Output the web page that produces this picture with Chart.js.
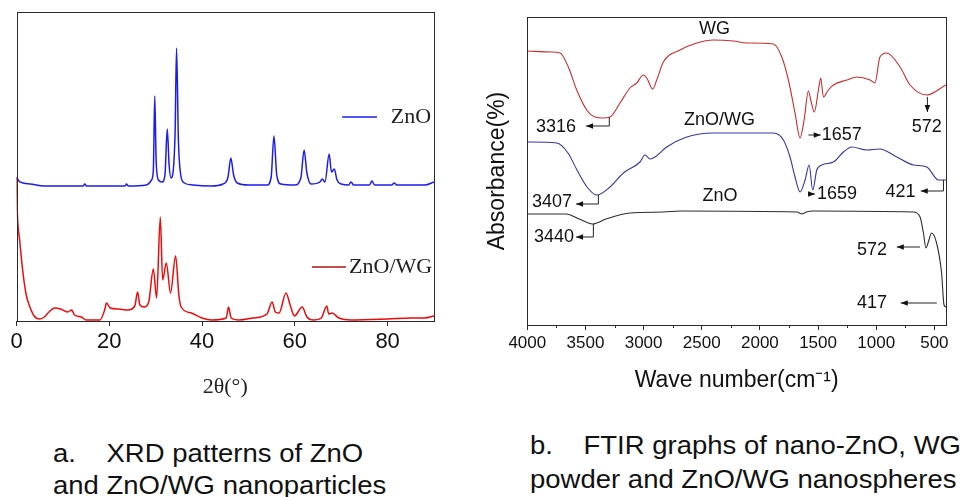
<!DOCTYPE html>
<html>
<head>
<meta charset="utf-8">
<script src="https://cdn.jsdelivr.net/npm/chart.js@4.4.1/dist/chart.umd.min.js"></script>
<style>
  html, body { margin: 0; padding: 0; background: #fff; }
  #page { position: relative; width: 964px; height: 497px; overflow: hidden; }
  canvas { position: absolute; top: 0; }
  .caption {
    position: absolute;
    font-family: 'Liberation Sans', Arial, sans-serif;
    font-size: 25px;
    color: #111;
    white-space: pre;
    transform: scaleX(1.1);
    transform-origin: left top;
  }
</style>
</head>
<body>
<div id="page">
  <canvas id="xrd" width="460" height="410" style="left:0"></canvas>
  <canvas id="ftir" width="484" height="410" style="left:480px"></canvas>
  <div class="caption" style="left:53px; top:437px; line-height:32px">a.    XRD patterns of ZnO
and ZnO/WG nanoparticles</div>
  <div class="caption" style="left:530px; top:428px; line-height:34px">b.    FTIR graphs of nano-ZnO, WG
powder and ZnO/WG nanospheres</div>
</div>
<script>
const SANS = "'Liberation Sans', Arial, sans-serif";
const SERIF = "'Liberation Serif', 'Times New Roman', serif";

// ---- panel a: XRD, 2θ vs intensity (arbitrary units, stacked) ----
const znoAngles = [0, 0.5, 1.5, 3, 6, 10, 14.4, 14.7, 15.1, 20, 23.4, 23.7, 24.1, 28, 29.1, 29.5, 29.8, 30.1, 30.6, 31.4,
  32.0, 32.5, 32.9, 33.3, 33.8, 34.2, 34.5, 34.9, 35.4, 36.2, 38, 42, 44.5, 45.6, 46.2, 46.8, 47.6, 50, 54, 54.9,
  55.5, 56.1, 57, 60, 61.3, 62.0, 62.6, 63.5, 65.4, 65.9, 66.5, 67.4, 67.9, 68.5, 69.1, 70, 71.6, 72.1, 72.7, 76.1,
  76.6, 77.2, 80.9, 81.4, 82, 88, 90];
const znoCounts = [144, 140, 138, 137, 135, 135, 135, 137, 135, 135, 135, 137, 135, 136, 141, 151, 225, 161, 141, 139,
  146, 192, 156, 143, 151, 191, 273, 181, 146, 138, 136, 135, 137, 144, 163, 146, 138, 136, 136, 144,
  185, 146, 137, 136, 143, 171, 148, 137, 139, 142, 139, 167, 149, 152, 141, 137, 136, 139, 136, 136,
  140, 136, 136, 138, 136, 136, 139];

const znoWgAngles = [0, 0.15, 0.7, 1.4, 2.1, 2.9, 3.8, 5.0, 6.0, 7.0, 8.2, 9.5, 11, 11.9, 12.5, 14.0, 15, 18, 19.0, 19.4,
  20.2, 22, 24, 25.5, 26.1, 26.6, 27.5, 28.5, 29.5, 30.2, 31.0, 31.5, 32.3, 33.2, 34.3, 35.0, 35.5, 37.7, 40, 42,
  45.2, 45.7, 46.3, 48, 51, 54, 55.1, 55.8, 56.6, 58.1, 59.0, 59.9, 61.6, 62.6, 64, 65.7, 66.9, 67.3, 68.0, 69.5,
  72, 80, 85, 88, 90];
const znoWgCounts = [143, 111, 80, 48, 26, 14, 5, 2, 4, 9, 13, 12, 9, 11, 6, 4, 1, 1, 11, 18,
  13, 12, 11, 15, 29, 16, 14, 19, 52, 23, 104, 41, 58, 28, 65, 26, 14, 8, 3, 1,
  3, 14, 3, 1, 3, 7, 19, 9, 8, 28, 16, 5, 14, 4, 1, 3, 15, 7, 8, 3,
  1, 2, 3, 3, 5];

const xrdTicks = [0, 20, 40, 60, 80];

// ---- panel b: FTIR, wave number vs absorbance (offset curves) ----
const wgWave = [4000, 3800, 3719, 3647, 3575, 3489, 3418, 3350, 3289, 3203, 3117, 3059, 3002, 2973, 2922, 2887, 2830,
  2687, 2543, 2400, 2228, 2113, 1884, 1812, 1755, 1698, 1655, 1620, 1583, 1563, 1532, 1497, 1477, 1454, 1411,
  1368, 1253, 1167, 1053, 1011, 968, 909, 795, 709, 565, 400];
const wgAbs = [274, 273, 272, 258, 235, 215, 208, 207, 208, 222, 237, 242, 250, 247, 236, 245, 263,
  275, 282, 285, 284, 282, 281, 268, 245, 212, 187, 205, 234, 225, 213, 235, 247, 228, 235,
  240, 245, 248, 245, 242, 268, 272, 258, 240, 230, 240];

const znoWgWave = [4000, 3747, 3650, 3573, 3487, 3403, 3289, 3174, 3031, 2988, 2945, 2902, 2801, 2629, 2400, 1884,
  1798, 1741, 1698, 1655, 1612, 1577, 1546, 1511, 1468, 1368, 1282, 1210, 1081, 968, 823, 680, 565, 465, 400];
const znoWgAbs = [183, 182, 172, 155, 138, 130, 138, 152, 163, 170, 166, 168, 178, 188, 192, 192,
  185, 168, 148, 133, 145, 160, 135, 155, 160, 163, 173, 178, 175, 176, 168, 160, 158, 145, 145];

const znoWave = [4000, 3667, 3553, 3438, 3323, 3117, 2830, 2687, 1680, 1640, 1600, 1543, 680, 623, 594, 572, 552,
  524, 481, 438, 417, 400];
const znoAbs = [111, 111, 106, 101, 106, 112, 113, 114, 113, 111, 113, 114, 113, 108, 92, 77, 83,
  92, 82, 52, 20, 18];

const ftirMajorTicks = [4000, 3500, 3000, 2500, 2000, 1500, 1000, 500];
const ftirMinorTicks = [3750, 3250, 2750, 2250, 1750, 1250, 750];

// in-plot labels, anchored in data units (wave number, absorbance)
const ftirLabels = [
  { text: 'WG', x: 2391, y: 296 },
  { text: '3316', x: 3753, y: 198 },
  { text: 'ZnO/WG', x: 2347, y: 205 },
  { text: '1657', x: 1296, y: 190 },
  { text: '572', x: 566, y: 198 },
  { text: '3407', x: 3788, y: 123 },
  { text: '1659', x: 1337, y: 131 },
  { text: '421', x: 792, y: 133 },
  { text: 'ZnO', x: 2343, y: 129 },
  { text: '3440', x: 3770, y: 88 },
  { text: '572', x: 1036, y: 75 },
  { text: '417', x: 1036, y: 22 }
];
// leader lines, arrowhead on the last point
const ftirArrows = [
  [[3295, 208], [3295, 199], [3495, 199]],
  [[1583, 190], [1477, 190]],
  [[560, 228], [560, 213]],
  [[3389, 130], [3389, 121], [3581, 121]],
  [[1586, 131], [1526, 131]],
  [[422, 145], [422, 134], [617, 134]],
  [[3432, 101], [3432, 88], [3581, 88]],
  [[623, 78], [823, 78]],
  [[479, 22], [789, 22]]
];

const xrdLegend = [
  { label: 'ZnO', color: '#1c1cf0', from: 70.2, to: 77.7, y: 204, textAt: 80.7 },
  { label: 'ZnO/WG', color: '#b01010', from: 63.7, to: 71.0, y: 54, textAt: 71.7 }
];

function toPoints(xs, ys) {
  return xs.map((x, i) => ({ x, y: ys[i] }));
}

function drawArrow(ctx, pts) {
  ctx.beginPath();
  pts.forEach(([x, y], i) => (i ? ctx.lineTo(x, y) : ctx.moveTo(x, y)));
  ctx.stroke();
  const [x1, y1] = pts[pts.length - 2];
  const [x2, y2] = pts[pts.length - 1];
  const ang = Math.atan2(y2 - y1, x2 - x1);
  const len = 7, half = 2.8;
  ctx.beginPath();
  ctx.moveTo(x2, y2);
  ctx.lineTo(x2 - len * Math.cos(ang) + half * Math.sin(ang), y2 - len * Math.sin(ang) - half * Math.cos(ang));
  ctx.lineTo(x2 - len * Math.cos(ang) - half * Math.sin(ang), y2 - len * Math.sin(ang) + half * Math.cos(ang));
  ctx.closePath();
  ctx.fill();
}

// box round the plot area, both panels
const framePlugin = {
  id: 'frame',
  afterDraw(chart) {
    const { ctx, chartArea: a } = chart;
    ctx.save();
    ctx.strokeStyle = '#2a2a2a';
    ctx.lineWidth = 1;
    const l = Math.round(a.left) + 0.5, t = Math.round(a.top) + 0.5;
    ctx.strokeRect(l, t, Math.round(a.right) - Math.round(a.left), Math.round(a.bottom) - Math.round(a.top));
    ctx.restore();
  }
};

const xrdLegendPlugin = {
  id: 'xrdLegend',
  afterDraw(chart) {
    const { ctx, scales: { x, y } } = chart;
    ctx.save();
    xrdLegend.forEach(item => {
      const py = y.getPixelForValue(item.y);
      ctx.strokeStyle = item.color;
      ctx.lineWidth = 1.5;
      ctx.beginPath();
      ctx.moveTo(x.getPixelForValue(item.from), py);
      ctx.lineTo(x.getPixelForValue(item.to), py);
      ctx.stroke();
      ctx.fillStyle = '#222';
      ctx.font = `22px ${SERIF}`;
      ctx.textBaseline = 'middle';
      ctx.fillText(item.label, x.getPixelForValue(item.textAt), py);
    });
    ctx.restore();
  }
};

const ftirNotesPlugin = {
  id: 'ftirNotes',
  afterDraw(chart) {
    const { ctx, chartArea: a, scales: { x, y } } = chart;
    ctx.save();
    // minor ticks, shorter than the labelled ones
    ctx.strokeStyle = '#2a2a2a';
    ctx.lineWidth = 1;
    ftirMinorTicks.forEach(v => {
      const px = Math.round(x.getPixelForValue(v)) + 0.5;
      ctx.beginPath();
      ctx.moveTo(px, a.bottom);
      ctx.lineTo(px, a.bottom + 3);
      ctx.stroke();
    });
    ctx.fillStyle = '#111';
    ctx.strokeStyle = '#222';
    ftirArrows.forEach(pts => {
      drawArrow(ctx, pts.map(([wn, v]) => [x.getPixelForValue(wn), y.getPixelForValue(v)]));
    });
    ctx.font = `18px ${SANS}`;
    ctx.textAlign = 'center';
    ctx.textBaseline = 'middle';
    ftirLabels.forEach(l => ctx.fillText(l.text, x.getPixelForValue(l.x), y.getPixelForValue(l.y)));
    ctx.restore();
  }
};

const lineDefaults = { pointRadius: 0, fill: false, cubicInterpolationMode: 'monotone' };
const plainNumber = v => String(v);

function renderXrd() {
  return new Chart(document.getElementById('xrd'), {
    type: 'line',
    data: {
      datasets: [
        { ...lineDefaults, data: toPoints(znoAngles, znoCounts), borderColor: '#1c1cf0', borderWidth: 1.5 },
        { ...lineDefaults, data: toPoints(znoWgAngles, znoWgCounts), borderColor: '#ee0a0a', borderWidth: 1.5 }
      ]
    },
    options: {
      responsive: false,
      animation: false,
      devicePixelRatio: 1,
      layout: { padding: { left: 16.5, top: 12, right: 26, bottom: 0 } },
      plugins: { legend: { display: false }, tooltip: { enabled: false } },
      scales: {
        x: {
          type: 'linear', min: 0, max: 90,
          afterBuildTicks: s => { s.ticks = xrdTicks.map(value => ({ value })); },
          afterFit: s => { s.height = 89; },
          border: { display: false },
          grid: { drawOnChartArea: false, drawTicks: true, tickLength: 5, color: '#2a2a2a' },
          ticks: { color: '#111', font: { family: SANS, size: 22 }, padding: 3, maxRotation: 0, autoSkip: false, callback: plainNumber },
          title: { display: true, text: '2θ(°)', color: '#222', font: { family: SERIF, size: 22 }, padding: { bottom: 10 } }
        },
        y: {
          min: 0, max: 309,
          afterFit: s => { s.width = 0; },
          border: { display: false },
          grid: { display: false },
          ticks: { display: false }
        }
      }
    },
    plugins: [framePlugin, xrdLegendPlugin]
  });
}

function renderFtir() {
  return new Chart(document.getElementById('ftir'), {
    type: 'line',
    data: {
      datasets: [
        { ...lineDefaults, data: toPoints(wgWave, wgAbs), borderColor: '#cc2b2b', borderWidth: 1.1 },
        { ...lineDefaults, data: toPoints(znoWgWave, znoWgAbs), borderColor: '#3434a8', borderWidth: 1.1 },
        { ...lineDefaults, data: toPoints(znoWave, znoAbs), borderColor: '#2c2c2c', borderWidth: 1.1 }
      ]
    },
    options: {
      responsive: false,
      animation: false,
      devicePixelRatio: 1,
      layout: { padding: { left: 0, top: 17, right: 18, bottom: 0 } },
      plugins: { legend: { display: false }, tooltip: { enabled: false } },
      scales: {
        x: {
          type: 'linear', min: 400, max: 4000, reverse: true,
          afterBuildTicks: s => { s.ticks = ftirMajorTicks.map(value => ({ value })); },
          afterFit: s => { s.height = 85; },
          border: { display: false },
          grid: { drawOnChartArea: false, drawTicks: true, tickLength: 5, color: '#2a2a2a' },
          ticks: { color: '#111', font: { family: SANS, size: 17 }, padding: 3, maxRotation: 0, autoSkip: false, callback: plainNumber },
          title: { display: true, text: 'Wave number(cm⁻¹)', color: '#111', font: { family: SANS, size: 23 }, padding: { bottom: 16 } }
        },
        y: {
          min: 0, max: 308,
          afterFit: s => { s.width = 47.3; },
          border: { display: false },
          grid: { display: false },
          ticks: { display: false },
          title: { display: true, text: 'Absorbance(%)', color: '#111', font: { family: SANS, size: 23 }, padding: { top: 4 } }
        }
      }
    },
    plugins: [framePlugin, ftirNotesPlugin]
  });
}

renderXrd();
renderFtir();
</script>
</body>
</html>
